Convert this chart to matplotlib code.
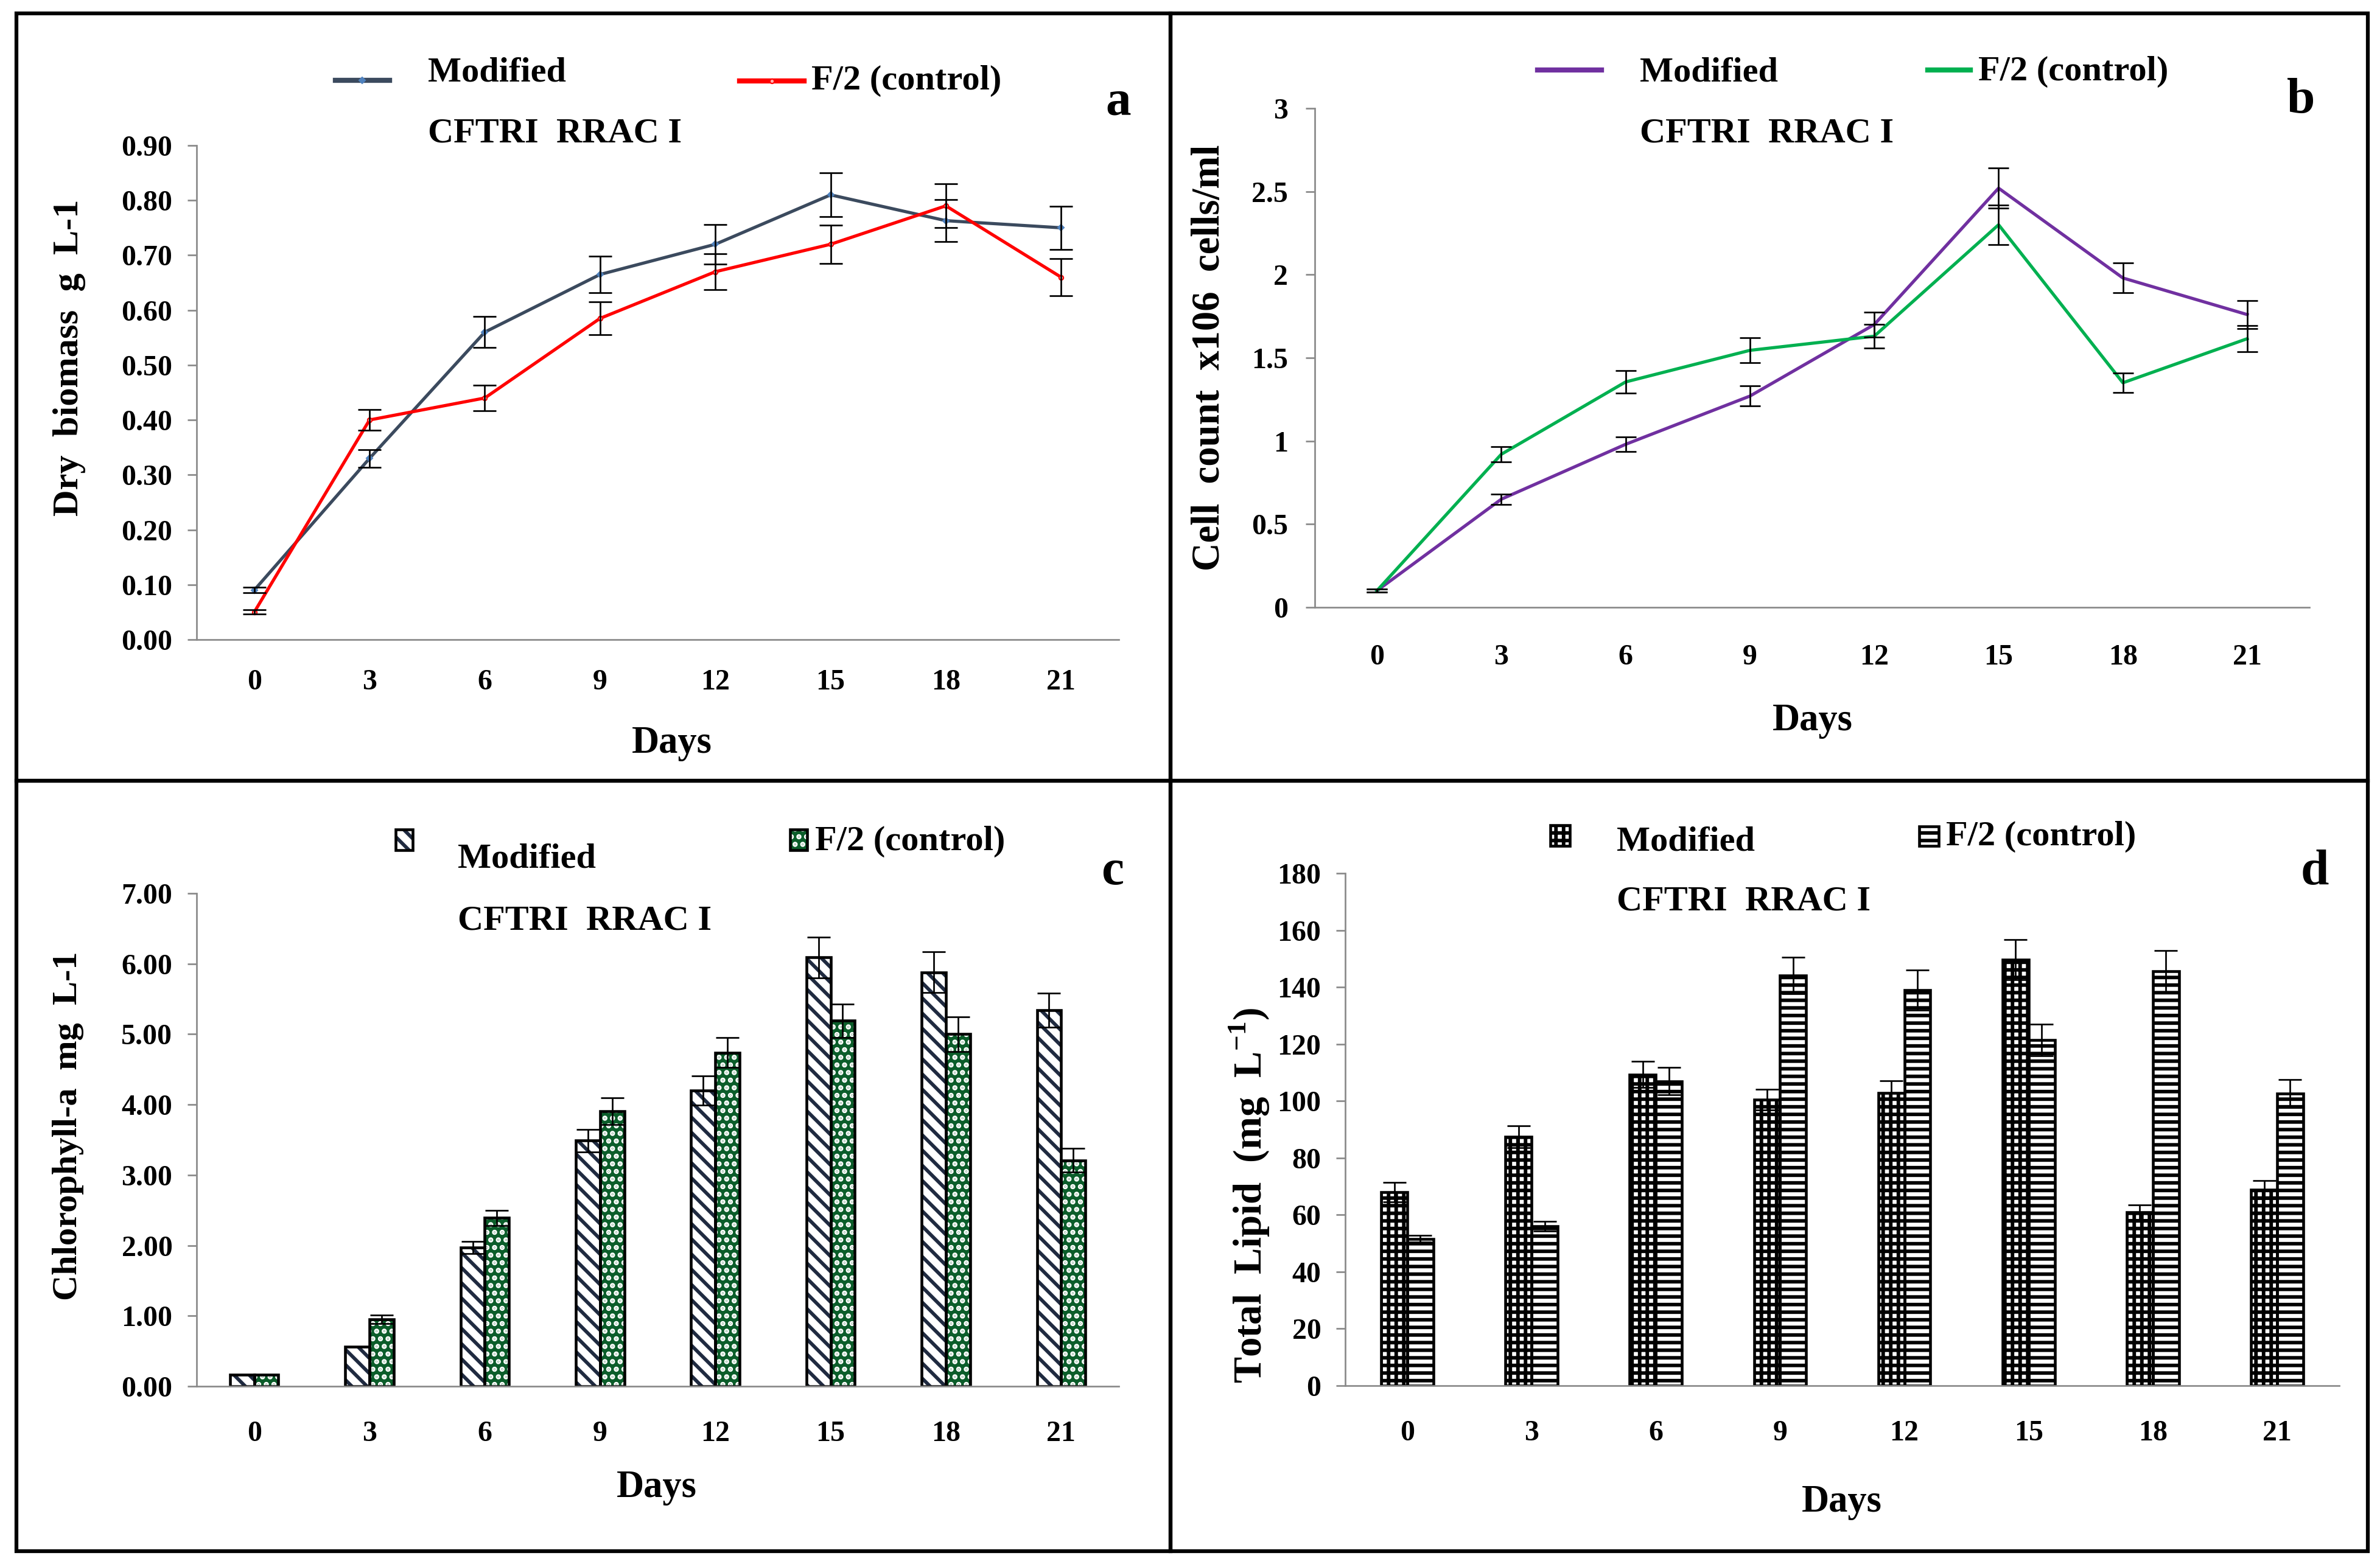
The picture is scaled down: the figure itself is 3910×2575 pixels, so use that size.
import numpy as np
import matplotlib
matplotlib.use("Agg")
import matplotlib.pyplot as plt
from matplotlib.patches import Rectangle
from matplotlib.lines import Line2D

# ---- data ----
days = ['0', '3', '6', '9', '12', '15', '18', '21']

# a) dry biomass g/L
biomass_mod = [0.09, 0.33, 0.56, 0.665, 0.72, 0.81, 0.763, 0.75]
biomass_mod_err = [0.005, 0.016, 0.028, 0.033, 0.036, 0.04, 0.038, 0.039]
biomass_f2 = [0.05, 0.40, 0.44, 0.585, 0.67, 0.72, 0.79, 0.66]
biomass_f2_err = [0.004, 0.019, 0.023, 0.03, 0.033, 0.035, 0.04, 0.034]

# b) cell count x10^6 cells/ml
cells_mod = [0.10, 0.65, 0.98, 1.27, 1.70, 2.52, 1.98, 1.76]
cells_mod_err = [0.01, 0.03, 0.045, 0.06, 0.075, 0.12, 0.09, 0.085]
cells_f2 = [0.10, 0.92, 1.355, 1.545, 1.63, 2.30, 1.35, 1.615]
cells_f2_err = [0.01, 0.045, 0.068, 0.075, 0.07, 0.12, 0.06, 0.08]

# c) chlorophyll-a mg/L
chl_mod = [0.16, 0.56, 1.97, 3.49, 4.20, 6.09, 5.88, 5.34]
chl_mod_err = [0.0, 0.0, 0.09, 0.16, 0.21, 0.29, 0.29, 0.24]
chl_f2 = [0.16, 0.95, 2.39, 3.91, 4.74, 5.19, 5.00, 3.21]
chl_f2_err = [0.0, 0.06, 0.11, 0.19, 0.21, 0.24, 0.25, 0.17]

# d) total lipid mg/L
lipid_mod = [68, 87.4, 109.3, 100.5, 102.8, 149.6, 60.9, 68.9]
lipid_mod_err = [3.4, 3.9, 4.6, 3.7, 4.4, 7.1, 2.5, 3.2]
lipid_f2 = [51.6, 56, 106.9, 144, 139, 121.4, 145.6, 102.6]
lipid_f2_err = [1.2, 1.8, 4.8, 6.4, 7.1, 5.5, 7.2, 4.9]

yticks_a = [0.0, 0.1, 0.2, 0.3, 0.4, 0.5, 0.6, 0.7, 0.8, 0.9]
yticks_b = [0, 0.5, 1, 1.5, 2, 2.5, 3]
ylabels_b = ['0', '0.5', '1', '1.5', '2', '2.5', '3']
yticks_c = [0, 1, 2, 3, 4, 5, 6, 7]
yticks_d = [0, 20, 40, 60, 80, 100, 120, 140, 160, 180]

# ---- style ----
plt.rcParams['font.family'] = 'serif'
plt.rcParams['font.serif'] = ['Liberation Serif', 'DejaVu Serif']
plt.rcParams['font.weight'] = 'bold'
plt.rcParams['mathtext.fontset'] = 'custom'
plt.rcParams['mathtext.rm'] = 'Liberation Serif:bold'
plt.rcParams['mathtext.bf'] = 'Liberation Serif:bold'
plt.rcParams['hatch.linewidth'] = 2.8

W, H, DPI = 3910, 2575, 150
fig = plt.figure(figsize=(W / DPI, H / DPI), dpi=DPI)
GRAY = '#8a8a8a'


def fx(x):
    return x / W


def fy(y):
    return 1 - y / H


def make_axes(left, right, bottom, top):
    return fig.add_axes([left / W, 1 - bottom / H, (right - left) / W, (bottom - top) / H])


def style(ax, yticks, ylabels, xpad, ypad):
    for s in ['top', 'right']:
        ax.spines[s].set_visible(False)
    for s in ['left', 'bottom']:
        ax.spines[s].set_color(GRAY)
        ax.spines[s].set_linewidth(1.3)
    ax.set_xlim(-0.5, 7.5)
    ax.set_xticks(range(len(days)))
    ax.set_xticklabels(days)
    ax.set_ylim(yticks[0], yticks[-1])
    ax.set_yticks(yticks)
    ax.set_yticklabels(ylabels)
    ax.tick_params(axis='x', length=0, pad=xpad, labelsize=23)
    ax.tick_params(axis='y', length=7, width=1.3, color=GRAY, pad=ypad, labelsize=23)
    ax.set_facecolor('none')


x = np.arange(len(days))

# ---- panel frames ----
for (l, t, r, b) in [(27, 22, 1923, 1283), (1923, 22, 3890, 1283),
                     (27, 1283, 1923, 2549), (1923, 1283, 3890, 2549)]:
    fig.add_artist(Rectangle((fx(l), fy(b)), (r - l) / W, (b - t) / H, transform=fig.transFigure,
                             fill=False, edgecolor='black', linewidth=3))

# ---- a) dry biomass ----
ax = make_axes(323, 1838, 1051, 239)
ax.plot(x, biomass_mod, color='#3B4A5E', lw=2.5, marker='D', ms=3.5, mfc='#4F81BD', mec='#4F81BD', zorder=2)
ax.plot(x, biomass_f2, color='#FF0000', lw=2.5, marker='o', ms=3.5, mfc='#FFB0B0', mec='#FF0000', zorder=2)
ax.errorbar(x, biomass_mod, yerr=biomass_mod_err, fmt='none', ecolor='black', elinewidth=1.3, capsize=9, capthick=1.3, zorder=3)
ax.errorbar(x, biomass_f2, yerr=biomass_f2_err, fmt='none', ecolor='black', elinewidth=1.3, capsize=9, capthick=1.3, zorder=3)
style(ax, yticks_a, ['%.2f' % v for v in yticks_a], 23, 12)
fig.text(fx(114), fy(588), 'Dry  biomass  g  L-1', rotation=90, ha='center', va='center', fontsize=29)
fig.text(fx(1104), fy(1222), 'Days', ha='center', va='center', fontsize=30)
fig.add_artist(Line2D([fx(551), fx(640)], [fy(132), fy(132)], transform=fig.transFigure, color='#3B4A5E', lw=4))
fig.add_artist(Line2D([fx(595)], [fy(132)], transform=fig.transFigure, marker='D', ms=3.5, color='#4F81BD', lw=0))
fig.add_artist(Line2D([fx(1215), fx(1321)], [fy(133), fy(133)], transform=fig.transFigure, color='#FF0000', lw=4))
fig.add_artist(Line2D([fx(1268)], [fy(133)], transform=fig.transFigure, marker='o', ms=3.5, color='#FF0000', mfc='#FFB0B0', lw=0))
fig.text(fx(703), fy(119), 'Modified', ha='left', va='center', fontsize=28)
fig.text(fx(1333), fy(133), 'F/2 (control)', ha='left', va='center', fontsize=28)
fig.text(fx(703), fy(220), 'CFTRI  RRAC I', ha='left', va='center', fontsize=28)
fig.text(fx(1837), fy(169), 'a', ha='center', va='center', fontsize=40)

# ---- b) cell count ----
ax = make_axes(2160, 3794, 998, 178)
ax.plot(x, cells_mod, color='#7030A0', lw=2.5, zorder=2)
ax.plot(x, cells_f2, color='#00B050', lw=2.5, zorder=2)
ax.errorbar(x, cells_mod, yerr=cells_mod_err, fmt='none', ecolor='black', elinewidth=1.3, capsize=8, capthick=1.3, zorder=3)
ax.errorbar(x, cells_f2, yerr=cells_f2_err, fmt='none', ecolor='black', elinewidth=1.3, capsize=8, capthick=1.3, zorder=3)
style(ax, yticks_b, ylabels_b, 29, 14)
fig.text(fx(1987), fy(588), 'Cell  count  x106  cells/ml', rotation=90, ha='center', va='center', fontsize=31)
fig.text(fx(2978), fy(1185), 'Days', ha='center', va='center', fontsize=30)
fig.add_artist(Line2D([fx(2526), fx(2631)], [fy(115), fy(115)], transform=fig.transFigure, color='#7030A0', lw=4))
fig.add_artist(Line2D([fx(3167), fx(3237)], [fy(115), fy(115)], transform=fig.transFigure, color='#00B050', lw=4))
fig.text(fx(2694), fy(119), 'Modified', ha='left', va='center', fontsize=28)
fig.text(fx(3250), fy(118), 'F/2 (control)', ha='left', va='center', fontsize=28)
fig.text(fx(2694), fy(220), 'CFTRI  RRAC I', ha='left', va='center', fontsize=28)
fig.text(fx(3780), fy(165), 'b', ha='center', va='center', fontsize=40)

bw = 0.21


def hatched_bars(ax, xs, vals, face, hatch_col, hatch):
    ax.bar(xs, vals, bw, color=face, edgecolor=hatch_col, hatch=hatch, linewidth=0, zorder=2)
    ax.bar(xs, vals, bw, fill=False, edgecolor='black', linewidth=2.2, zorder=2.5)


def legend_patch(x0, y0, x1, y1, face, hatch_col, hatch):
    fig.add_artist(Rectangle((fx(x0), fy(y1)), (x1 - x0) / W, (y1 - y0) / H, transform=fig.transFigure,
                             facecolor=face, edgecolor=hatch_col, hatch=hatch, linewidth=0))
    fig.add_artist(Rectangle((fx(x0), fy(y1)), (x1 - x0) / W, (y1 - y0) / H, transform=fig.transFigure,
                             fill=False, edgecolor='black', linewidth=2.2))


# ---- c) chlorophyll ----
NAVY = '#1F2A40'
GREEN = '#0B5D2A'
ax = make_axes(323, 1838, 2278, 1468)
hatched_bars(ax, x - bw / 2, chl_mod, 'white', NAVY, '\\\\')
hatched_bars(ax, x + bw / 2, chl_f2, GREEN, 'white', '..')
ax.errorbar(x - bw / 2, chl_mod, yerr=chl_mod_err, fmt='none', ecolor='black', elinewidth=1.3, capsize=9, capthick=1.3, zorder=3)
ax.errorbar(x + bw / 2, chl_f2, yerr=chl_f2_err, fmt='none', ecolor='black', elinewidth=1.3, capsize=9, capthick=1.3, zorder=3)
style(ax, yticks_c, ['%.2f' % v for v in yticks_c], 27, 12)
fig.text(fx(112), fy(1850), 'Chlorophyll-a  mg  L-1', rotation=90, ha='center', va='center', fontsize=28)
fig.text(fx(1079), fy(2445), 'Days', ha='center', va='center', fontsize=30)
legend_patch(650, 1363, 678, 1397, 'white', NAVY, '\\\\')
legend_patch(1298, 1363, 1326, 1397, GREEN, 'white', '..')
fig.text(fx(752), fy(1412), 'Modified', ha='left', va='center', fontsize=28)
fig.text(fx(1339), fy(1383), 'F/2 (control)', ha='left', va='center', fontsize=28)
fig.text(fx(752), fy(1513), 'CFTRI  RRAC I', ha='left', va='center', fontsize=28)
fig.text(fx(1828), fy(1433), 'c', ha='center', va='center', fontsize=40)

# ---- d) total lipid ----
ax = make_axes(2210, 3843, 2277, 1435)
hatched_bars(ax, x - bw / 2, lipid_mod, 'white', 'black', '++')
hatched_bars(ax, x + bw / 2, lipid_f2, 'white', 'black', '--')
ax.errorbar(x - bw / 2, lipid_mod, yerr=lipid_mod_err, fmt='none', ecolor='black', elinewidth=1.3, capsize=9, capthick=1.3, zorder=3)
ax.errorbar(x + bw / 2, lipid_f2, yerr=lipid_f2_err, fmt='none', ecolor='black', elinewidth=1.3, capsize=9, capthick=1.3, zorder=3)
style(ax, yticks_d, [str(v) for v in yticks_d], 27, 12)
fig.text(fx(2052), fy(1964), r'Total  Lipid  (mg  L$^{\mathbf{-1}}$)', rotation=90, ha='center', va='center', fontsize=31)
fig.text(fx(3026), fy(2469), 'Days', ha='center', va='center', fontsize=30)
legend_patch(2547, 1356, 2579, 1390, 'white', 'black', '++')
legend_patch(3153, 1358, 3185, 1390, 'white', 'black', '--')
fig.text(fx(2656), fy(1383), 'Modified', ha='left', va='center', fontsize=28)
fig.text(fx(3197), fy(1375), 'F/2 (control)', ha='left', va='center', fontsize=28)
fig.text(fx(2656), fy(1482), 'CFTRI  RRAC I', ha='left', va='center', fontsize=28)
fig.text(fx(3803), fy(1433), 'd', ha='center', va='center', fontsize=40)

fig.savefig('out.png', dpi=DPI, facecolor='white')
